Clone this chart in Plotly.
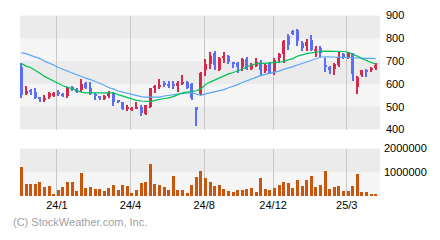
import plotly.graph_objects as go

# ---- data (weekly candles) ----
opens = [678,558,572,567,544,533,544,553,564,558,547,587,574,576,608,583,558,546,536,547,
         564,531,522,490,492,494,500,472,500,583,589,603,603,603,592,600,611,600,497,558,
         664,689,736,664,717,725,694,694,678,711,669,681,700,657,692,658,717,733,814,833,
         839,783,767,794,747,758,683,675,667,686,733,719,736,589,642,664,661,672]
highs = [692,592,578,583,544,553,567,567,575,561,587,592,583,625,611,611,561,550,553,569,
         567,533,525,511,503,522,511,511,586,597,625,617,614,614,614,642,617,608,500,653,
         712,744,747,722,742,728,700,697,714,722,694,714,706,689,697,717,739,794,819,839,
         842,789,800,817,769,769,714,681,694,742,739,744,739,639,664,667,675,694]
lows = [542,553,553,536,522,522,536,544,550,544,542,569,561,567,578,553,533,531,533,542,
        504,517,487,483,483,494,462,467,497,564,581,589,586,581,567,597,578,533,417,553,
        639,667,664,658,692,689,671,650,658,661,664,675,636,650,644,642,694,694,753,817,
        767,747,747,747,722,722,656,644,642,678,711,711,617,558,631,633,656,661]
closes = [553,571,567,542,536,542,561,561,558,547,583,575,569,601,583,558,547,540,550,564,
          522,522,492,499,497,503,475,508,583,592,597,597,594,594,608,611,583,539,489,650,
          689,725,685,717,722,700,689,675,712,667,685,700,661,685,650,708,733,789,772,822,
          792,761,786,750,753,739,678,661,689,722,719,736,647,633,661,653,672,686]
volumes = [1.24,0.52,0.52,0.52,0.60,0.40,0.44,0.12,0.28,0.40,0.60,0.60,0.24,1.00,0.36,0.40,0.32,0.32,0.24,0.36,
           0.48,0.28,0.48,0.44,0.16,0.28,0.56,0.60,1.36,0.52,0.48,0.40,0.28,0.88,0.28,0.28,0.16,0.48,0.84,1.08,
           0.80,0.60,0.44,0.48,0.32,0.24,0.20,0.28,0.28,0.32,0.36,0.20,0.80,0.32,0.28,0.36,0.48,0.60,0.56,0.36,
           0.68,0.44,0.68,0.88,0.40,0.48,1.08,0.32,0.40,0.44,0.24,0.24,0.44,0.96,0.20,0.20,0.12,0.12]
ma_short = [689,678,672,661,647,633,622,611,600,592,586,578,569,564,561,561,561,561,561,561,
            561,553,547,539,533,528,525,522,522,528,533,536,539,544,553,561,564,567,570,578,
            597,608,617,628,636,644,650,656,664,675,683,689,689,692,692,694,694,700,706,711,
            722,728,733,736,740,742,744,744,744,744,742,739,731,722,711,703,694,686]
ma_long = [736,733,725,719,711,700,692,683,672,664,656,647,639,631,625,619,611,603,594,583,
           578,569,564,558,553,547,544,542,542,542,542,547,550,550,553,558,561,561,556,550,
           556,561,564,569,575,583,589,597,606,614,622,628,636,642,647,650,656,664,669,676,
           683,690,697,703,711,717,719,718,717,717,717,716,714,714,714,713,712,711]
tick_weeks = [9, 25, 41, 56, 72]
tick_labels = ["24/1", "24/4", "24/8", "24/12", "25/3"]
price_ticks = [400, 500, 600, 700, 800, 900]
vol_ticks = [1000000, 2000000]

idx = list(range(1, len(opens) + 1))
vol_abs = [v * 1_000_000 for v in volumes]

RED = "#d62a4c"
BLUE = "#5b6ef6"
candle_colors = [RED if c >= o else BLUE for o, c in zip(opens, closes)]

fig = go.Figure()

# wicks
fig.add_trace(go.Bar(x=idx, base=lows, y=[h - l for h, l in zip(highs, lows)],
                     width=0.24, marker=dict(color=candle_colors, line=dict(width=0)),
                     xaxis="x", yaxis="y", hoverinfo="skip"))
# bodies
fig.add_trace(go.Bar(x=idx, base=opens, y=[c - o for o, c in zip(opens, closes)],
                     width=0.66, marker=dict(color=candle_colors, line=dict(width=0)),
                     xaxis="x", yaxis="y", hoverinfo="skip"))
# moving averages
fig.add_trace(go.Scatter(x=idx, y=ma_long, mode="lines",
                         line=dict(color="#5aa5f5", width=1.2), xaxis="x", yaxis="y"))
fig.add_trace(go.Scatter(x=idx, y=ma_short, mode="lines",
                         line=dict(color="#00c05a", width=1.2), xaxis="x", yaxis="y"))
# volume
fig.add_trace(go.Bar(x=idx, y=vol_abs, width=0.66,
                     marker=dict(color="#c8560c", line=dict(width=0)),
                     xaxis="x2", yaxis="y2", hoverinfo="skip"))

xr = [0.674, 78.93]
grid_x = [w - 0.3 for w in tick_weeks]
xdom = [20 / 440, 380 / 440]
common_x = dict(range=xr, domain=xdom, showgrid=True, gridcolor="#c8c8c8", gridwidth=1,
                tickmode="array", tickvals=grid_x, ticktext=tick_labels,
                zeroline=False, showline=False, ticks="", fixedrange=True)

font_ax = dict(family="Liberation Sans, Arial, sans-serif", size=11, color="#000000")

fig.update_layout(
    width=440, height=240,
    margin=dict(l=0, r=0, t=0, b=0),
    paper_bgcolor="white", plot_bgcolor="#f5f5f5",
    showlegend=False, barmode="overlay", bargap=0,
    xaxis=dict(**common_x, anchor="y", showticklabels=False),
    xaxis2=dict(**common_x, anchor="y2", matches="x", showticklabels=True,
                tickfont=font_ax, ticklabelstandoff=1),
    yaxis=dict(domain=[1 - 130 / 240, 1 - 10 / 240], range=[400, 900], side="right",
               anchor="x", tickmode="array", tickvals=price_ticks,
               showgrid=False, zeroline=False, showline=False, ticks="",
               tickfont=font_ax, ticklabelstandoff=5),
    yaxis2=dict(domain=[1 - 200 / 240, 1 - 150 / 240], range=[0, 2000000], side="right",
                anchor="x2", tickmode="array", tickvals=vol_ticks,
                ticktext=[str(v) for v in vol_ticks],
                showgrid=False, zeroline=False, showline=False, ticks="",
                tickfont=font_ax, ticklabelstandoff=3),
    font=font_ax,
)

# alternating background bands
for lo in [400, 600, 800]:
    fig.add_shape(type="rect", xref="x domain", yref="y", x0=0, x1=1, y0=lo, y1=lo + 100,
                  fillcolor="#ebebeb", line=dict(width=0), layer="below")
fig.add_shape(type="rect", xref="x2 domain", yref="y2", x0=0, x1=1, y0=vol_ticks[0], y1=vol_ticks[1],
              fillcolor="#ebebeb", line=dict(width=0), layer="below")

fig.add_annotation(text="(C) StockWeather.com, Inc.", xref="paper", yref="paper",
                   x=11 / 440, y=1 - 227 / 240, xanchor="left", yanchor="middle",
                   showarrow=False, font=dict(family="Liberation Sans, Arial, sans-serif",
                                              size=11, color="#a0a0a0"))

fig.write_html("out.html")
